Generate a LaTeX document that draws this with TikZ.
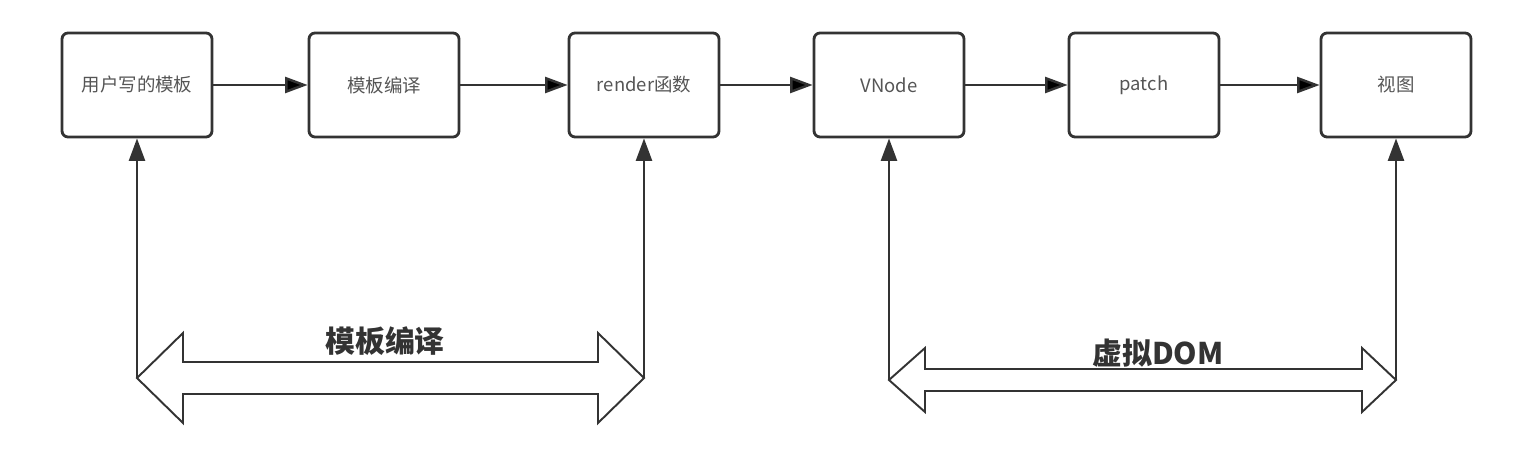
\documentclass[tikz,border=0pt]{standalone}
\usepackage{fontspec}
\setmainfont{Noto Sans CJK SC}
\usepackage{xcolor}
\usetikzlibrary{arrows.meta,calc}

\definecolor{linegray}{HTML}{333333}
\definecolor{textgray}{HTML}{555555}

\begin{document}
\begin{tikzpicture}[x=0.02cm, y=-0.02cm, >={Triangle[length=0.45cm,width=0.32cm]},
		box/.style={draw=linegray, line width=1.6pt, rounded corners=0.12cm, minimum width=3cm, minimum height=2.08cm, text=textgray, font=\fontsize{10.5}{12}\selectfont},
		flow/.style={->, draw=linegray, line width=1.4pt},
		bigarrow/.style={draw=linegray, line width=1.1pt, fill=white, line join=miter},
		phase/.style={font=\bfseries\fontsize{17}{20}\selectfont, text=linegray}]
		\useasboundingbox (0,0) rectangle (1538,476);

		\node[box] (tmpl) at (137,85) {用户写的模板};
		\node[box] (comp) at (384,85) {模板编译};
		\node[box] (rend) at (644,85) {render函数};
		\node[box] (vnode) at (889,85) {VNode};
		\node[box] (patch) at (1144,85) {patch};
		\node[box] (view) at (1396,85) {视图};

		\path[flow]
		(tmpl) edge (comp)
		(comp) edge (rend)
		(rend) edge (vnode)
		(vnode) edge (patch)
		(patch) edge (view);

		% tips of the two block arrows
		\coordinate (lt) at (tmpl.south |- 0,378);
		\coordinate (rt) at (rend.south |- 0,378);
		\coordinate (vl) at (vnode.south |- 0,380);
		\coordinate (vr) at (view.south |- 0,380);

		\draw[flow] (lt) -- (tmpl.south);
		\draw[flow] (rt) -- (rend.south);
		\draw[flow] (vl) -- (vnode.south);
		\draw[flow] (vr) -- (view.south);

		\draw[bigarrow] (lt) -- ($(lt)+(46,-45)$) -- ($(lt)+(46,-16)$) -- ($(rt)+(-46,-16)$) -- ($(rt)+(-46,-45)$) -- (rt)
		-- ($(rt)+(-46,45)$) -- ($(rt)+(-46,16)$) -- ($(lt)+(46,16)$) -- ($(lt)+(46,45)$) -- cycle;
		\draw[bigarrow] (vl) -- ($(vl)+(36,-32)$) -- ($(vl)+(36,-11)$) -- ($(vr)+(-34,-11)$) -- ($(vr)+(-34,-32)$) -- (vr)
		-- ($(vr)+(-34,32)$) -- ($(vr)+(-34,11)$) -- ($(vl)+(36,11)$) -- ($(vl)+(36,32)$) -- cycle;

		\node[phase] (lbl1) at (385,341) {模板编译};
		\node[phase] (lbl2) at (1158,353) {虚拟DOM};
	\end{tikzpicture}
\end{document}
